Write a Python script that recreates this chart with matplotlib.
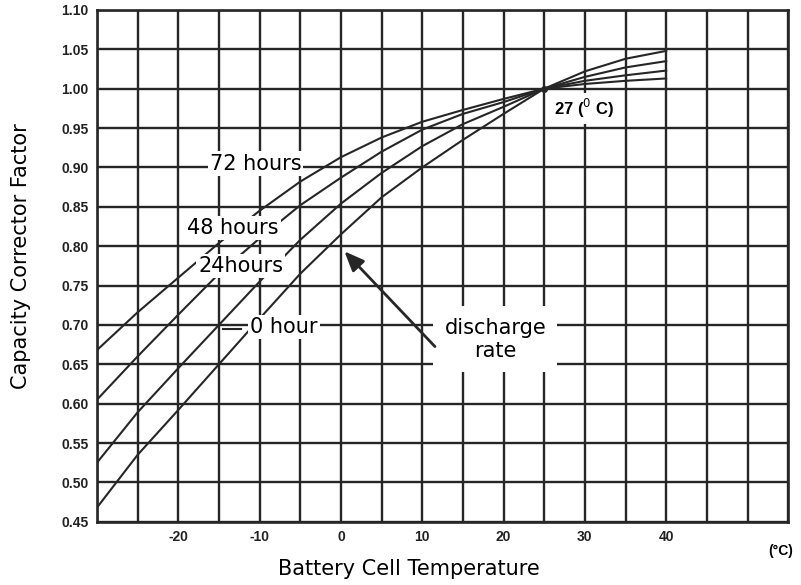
import numpy as np
import matplotlib
matplotlib.use("Agg")
import matplotlib.pyplot as plt

plt.rcParams["font.family"] = ["Liberation Sans", "DejaVu Sans"]

# Temperature points (deg C) and capacity factors
temps = [-30, -25, -20, -15, -10, -5, 0, 5, 10, 15, 20, 25, 30, 35, 40]
cf_72h = [0.668, 0.716, 0.760, 0.804, 0.845, 0.882, 0.913, 0.938, 0.958, 0.973, 0.987, 1.000, 1.006, 1.010, 1.013]
cf_48h = [0.605, 0.660, 0.713, 0.765, 0.810, 0.852, 0.887, 0.920, 0.948, 0.968, 0.983, 1.000, 1.010, 1.017, 1.023]
cf_24h = [0.525, 0.589, 0.645, 0.700, 0.755, 0.808, 0.854, 0.893, 0.927, 0.955, 0.977, 1.000, 1.015, 1.027, 1.035]
cf_0h = [0.468, 0.535, 0.592, 0.650, 0.708, 0.765, 0.815, 0.862, 0.900, 0.935, 0.968, 1.000, 1.022, 1.038, 1.048]

x_grid = np.arange(-30, 56, 5)
x_labels = [-20, -10, 0, 10, 20, 30, 40]
y_ticks = np.round(np.arange(0.45, 1.101, 0.05), 2)

fig = plt.figure(figsize=(8.01, 5.85), dpi=100)
ax = fig.add_axes([0.121, 0.108, 0.863, 0.875])

line_col = "#262626"
for series in [cf_72h, cf_48h, cf_24h, cf_0h]:
    ax.plot(temps, series, color=line_col, linewidth=1.5, zorder=3)
ax.plot([25], [1.0], "o", color=line_col, markersize=4, zorder=4)

ax.set_xlim(-30, 55)
ax.set_ylim(0.45, 1.10)
ax.set_xticks(x_grid)
ax.set_xticklabels([str(v) if v in x_labels else "" for v in x_grid])
ax.set_yticks(y_ticks)
ax.set_yticklabels([f"{v:.2f}" for v in y_ticks])
ax.tick_params(length=0, pad=6, labelsize=10)
for lab in ax.get_xticklabels() + ax.get_yticklabels():
    lab.set_fontweight("bold")
    lab.set_color("#222222")
ax.grid(True, color=line_col, linewidth=1.7)
for sp in ax.spines.values():
    sp.set_color(line_col)
    sp.set_linewidth(1.9)

# label text in a wider sans, like the scanned original
wide = "DejaVu Sans"
ax.set_xlabel("Battery Cell Temperature", fontsize=15, family=wide)
ax.set_ylabel("Capacity Corrector Factor", fontsize=15, family=wide)
ax.xaxis.set_label_coords(0.452, -0.073)
ax.yaxis.set_label_coords(-0.095, 0.52)

box = dict(facecolor="white", edgecolor="none", pad=1.5)
ax.text(-10.5, 0.905, "72 hours", fontsize=15, family=wide, ha="center", va="center", bbox=box, zorder=5)
ax.text(-13.3, 0.823, "48 hours", fontsize=15, family=wide, ha="center", va="center", bbox=box, zorder=5)
ax.text(-12.3, 0.775, "24hours", fontsize=15, family=wide, ha="center", va="center", bbox=box, zorder=5)
ax.text(-7.0, 0.697, "0 hour", fontsize=15, family=wide, ha="center", va="center", bbox=box, zorder=5)
ax.plot([-14.5, -12.3], [0.695, 0.695], color=line_col, linewidth=1.5, zorder=6)
ax.text(19.0, 0.682, "discharge\nrate", fontsize=15, family=wide, ha="center", va="center",
        linespacing=1.2, bbox=dict(facecolor="white", edgecolor="none", pad=8), zorder=5)
ax.annotate("", xy=(0.2, 0.796), xytext=(11.8, 0.67),
            arrowprops=dict(arrowstyle="-|>,head_length=1.2,head_width=0.5",
                            color=line_col, linewidth=2), zorder=6)
ax.text(29.9, 0.975, "27 ($^{0}$ C)", fontsize=12, fontweight="bold", ha="center", va="center",
        bbox=dict(facecolor="white", edgecolor="none", pad=3), zorder=5)
fig.text(0.975, 0.058, "(°C)", fontsize=10, fontweight="bold", ha="center", va="center")

fig.savefig("out.png", dpi=100)
